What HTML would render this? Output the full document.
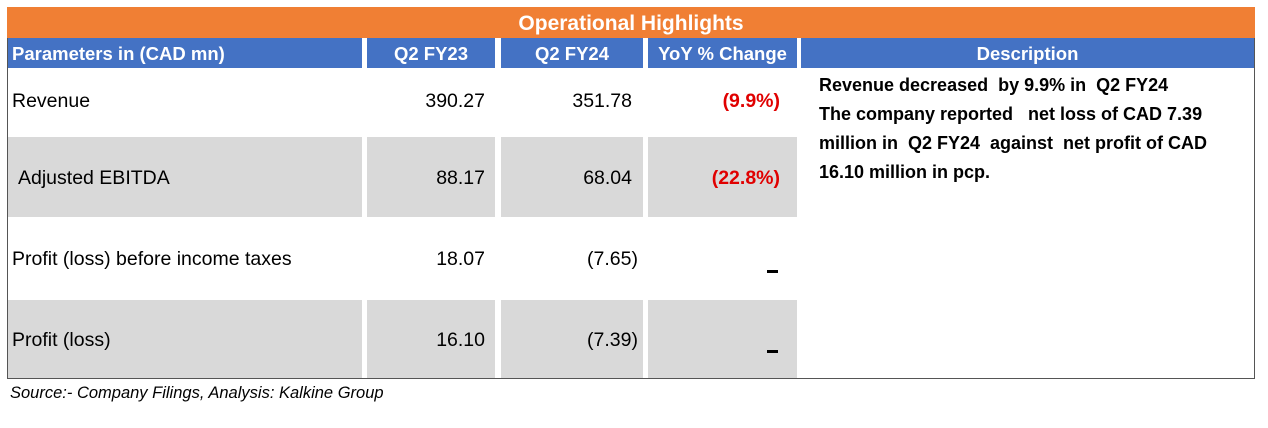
<!DOCTYPE html>
<html><head><meta charset="utf-8"><style>
body{margin:0;width:1268px;height:428px;background:#fff;position:relative;font-family:"Liberation Sans",sans-serif;overflow:hidden}
.a{position:absolute;box-sizing:border-box}
.t{white-space:nowrap}
.h{background:#4472c4;color:#fff;font-weight:bold;font-size:18.5px;line-height:31px;text-align:center}
.g{background:#d9d9d9}
.c{font-size:19.5px;color:#000}
.r{text-align:right}
.red{color:#e00000;font-weight:bold}
.dash{position:absolute;width:11px;height:3px;background:#000}
</style></head><body>
<div class="a" style="left:7px;top:7px;width:1248px;height:372px;border:1px solid #555;border-top:none"></div>
<div class="a" style="left:7px;top:7px;width:1248px;height:31px;background:#f07f34;color:#fff;font-weight:bold;font-size:21px;line-height:33px;text-align:center">Operational Highlights</div>
<div class="a h" style="left:8px;top:38px;width:354px;height:30px;text-align:left;padding-left:4px">Parameters in (CAD mn)</div>
<div class="a h" style="left:367px;top:38px;width:128px;height:30px">Q2 FY23</div>
<div class="a h" style="left:501px;top:38px;width:142px;height:30px">Q2 FY24</div>
<div class="a h" style="left:648px;top:38px;width:149px;height:30px">YoY % Change</div>
<div class="a h" style="left:801px;top:38px;width:453px;height:30px">Description</div>

<div class="a g" style="left:8px;top:137px;width:354px;height:80px"></div>
<div class="a g" style="left:367px;top:137px;width:128px;height:80px"></div>
<div class="a g" style="left:501px;top:137px;width:142px;height:80px"></div>
<div class="a g" style="left:648px;top:137px;width:149px;height:80px"></div>
<div class="a g" style="left:8px;top:300px;width:354px;height:78px"></div>
<div class="a g" style="left:367px;top:300px;width:128px;height:78px"></div>
<div class="a g" style="left:501px;top:300px;width:142px;height:78px"></div>
<div class="a g" style="left:648px;top:300px;width:149px;height:78px"></div>

<div class="a c t" style="left:12px;top:90px">Revenue</div>
<div class="a c t r" style="left:367px;width:118px;top:90px">390.27</div>
<div class="a c t r" style="left:501px;width:131px;top:90px">351.78</div>
<div class="a c t r red" style="left:648px;width:132px;top:90px">(9.9%)</div>

<div class="a c t" style="left:18px;top:167px">Adjusted EBITDA</div>
<div class="a c t r" style="left:367px;width:118px;top:167px">88.17</div>
<div class="a c t r" style="left:501px;width:131px;top:167px">68.04</div>
<div class="a c t r red" style="left:648px;width:132px;top:167px">(22.8%)</div>

<div class="a c t" style="left:12px;top:248px">Profit (loss) before income taxes</div>
<div class="a c t r" style="left:367px;width:118px;top:248px">18.07</div>
<div class="a c t r" style="left:501px;width:137px;top:248px">(7.65)</div>
<div class="dash" style="left:767px;top:270px"></div>

<div class="a c t" style="left:12px;top:329px">Profit (loss)</div>
<div class="a c t r" style="left:367px;width:118px;top:329px">16.10</div>
<div class="a c t r" style="left:501px;width:137px;top:329px">(7.39)</div>
<div class="dash" style="left:767px;top:350px"></div>

<div class="a" style="left:819px;top:71px;width:440px;font-size:18px;font-weight:bold;line-height:29px;color:#000;white-space:pre">Revenue decreased  by 9.9% in  Q2 FY24
The company reported   net loss of CAD 7.39
million in  Q2 FY24  against  net profit of CAD
16.10 million in pcp.</div>

<div class="a t" style="left:10px;top:384px;font-size:16.5px;font-style:italic;color:#000">Source:- Company Filings, Analysis: Kalkine Group</div>
</body></html>
